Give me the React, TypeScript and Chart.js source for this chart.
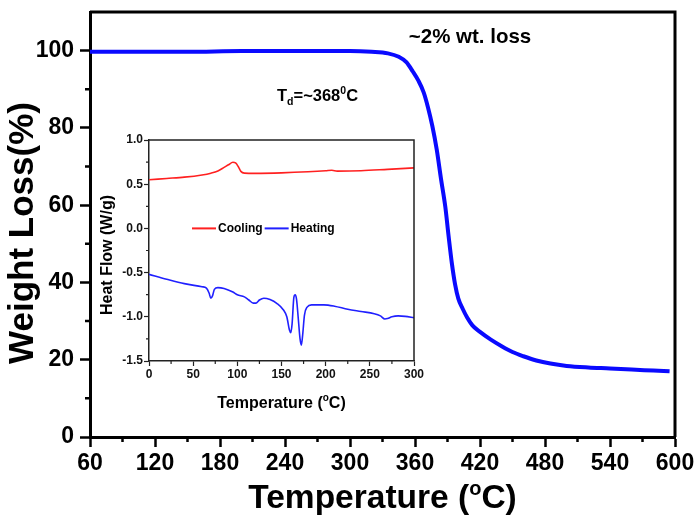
import React, { useEffect, useRef } from "react";
import { Chart, registerables } from "chart.js";

Chart.register(...registerables);

// ---------- Main TGA data ----------
const tgaTemp = [60, 100, 150, 200, 250, 300, 320, 335, 345, 352, 358, 363, 368, 372, 376, 380, 384, 388, 391, 394, 397, 400, 404, 408, 413, 420, 430, 440, 450, 460, 472, 485, 500, 520, 540, 560, 580, 595];
const tgaWeight = [99.7, 99.7, 99.7, 99.9, 99.9, 99.9, 99.7, 99.3, 98.4, 97.0, 94.6, 92.3, 89.2, 85.3, 80.5, 74.5, 66.8, 59.5, 52, 45, 39.5, 35.8, 33.2, 31.0, 28.9, 27.2, 25.2, 23.5, 22.0, 20.9, 19.8, 19.0, 18.4, 18.0, 17.75, 17.45, 17.2, 17.0];
const mainXTicks = [60, 120, 180, 240, 300, 360, 420, 480, 540, 600];
const mainXMinor = [90, 150, 210, 270, 330, 390, 450, 510, 570];
const mainYTicks = [0, 20, 40, 60, 80, 100];
const mainYMinor = [10, 30, 50, 70, 90];

// ---------- Inset DSC data ----------
const coolTemp = [0, 20, 40, 60, 70, 78, 85, 90, 95, 98, 101, 104, 108, 120, 150, 180, 200, 207, 213, 240, 270, 300];
const coolFlow = [0.55, 0.565, 0.58, 0.605, 0.625, 0.65, 0.69, 0.72, 0.748, 0.74, 0.70, 0.645, 0.625, 0.623, 0.628, 0.64, 0.652, 0.658, 0.648, 0.652, 0.668, 0.685];
const heatTemp = [0, 20, 40, 60, 65, 68, 70, 72, 74, 78, 85, 95, 100, 108, 113, 118, 121, 125, 130, 137, 145, 152, 156, 159, 160.5, 162, 164, 165.5, 167, 169, 171, 172.5, 174, 176, 179, 184, 198, 210, 225, 240, 255, 262, 267, 270, 275, 282, 290, 300];
const heatFlow = [-0.52, -0.575, -0.625, -0.66, -0.675, -0.73, -0.79, -0.76, -0.69, -0.67, -0.68, -0.72, -0.75, -0.775, -0.81, -0.845, -0.845, -0.81, -0.79, -0.805, -0.85, -0.92, -1.0, -1.15, -1.18, -1.08, -0.78, -0.75, -0.8, -1.02, -1.25, -1.32, -1.2, -0.98, -0.89, -0.865, -0.865, -0.88, -0.915, -0.94, -0.965, -0.99, -1.025, -1.02, -1.0, -0.99, -0.995, -1.01];
const insetXTicks = [0, 50, 100, 150, 200, 250, 300];
const insetXMinor = [25, 75, 125, 175, 225, 275];
const insetYTicks = [-1.5, -1.0, -0.5, 0.0, 0.5, 1.0];
const insetYMinor = [-1.25, -0.75, -0.25, 0.25, 0.75];
const legendLabels = ["Cooling", "Heating"];
const legendColors = ["#ff2020", "#2020ff"];

const FAM = '"Liberation Sans", Arial, sans-serif';

type Seg = [string, number, number];

function drawRich(ctx: CanvasRenderingContext2D, segs: Seg[], x: number, y: number, align: "left" | "center") {
  const widths = segs.map(([t, s]) => {
    ctx.font = `bold ${s}px ${FAM}`;
    return ctx.measureText(t).width;
  });
  const total = widths.reduce((a, b) => a + b, 0);
  let cx = align === "center" ? x - total / 2 : x;
  ctx.textAlign = "left";
  ctx.textBaseline = "alphabetic";
  segs.forEach(([t, s, dy], i) => {
    ctx.font = `bold ${s}px ${FAM}`;
    ctx.fillText(t, cx, y + dy);
    cx += widths[i];
  });
}

function minorTicks(ctx: CanvasRenderingContext2D, chart: any, xs: number[], ys: number[], len: number) {
  const a = chart.chartArea;
  const sx = chart.scales.x;
  const sy = chart.scales.y;
  ctx.beginPath();
  xs.forEach((v) => {
    const p = sx.getPixelForValue(v);
    ctx.moveTo(p, a.bottom);
    ctx.lineTo(p, a.bottom + len);
  });
  ys.forEach((v) => {
    const p = sy.getPixelForValue(v);
    ctx.moveTo(a.left, p);
    ctx.lineTo(a.left - len, p);
  });
  ctx.stroke();
}

const mainDecor = {
  id: "mainDecor",
  afterDraw(chart: any) {
    const { ctx, chartArea: a } = chart;
    ctx.save();
    ctx.strokeStyle = "#000";
    ctx.lineWidth = 3;
    ctx.beginPath();
    ctx.moveTo(a.left, a.top);
    ctx.lineTo(a.right, a.top);
    ctx.lineTo(a.right, a.bottom);
    ctx.stroke();
    ctx.lineWidth = 2.5;
    minorTicks(ctx, chart, mainXMinor, mainYMinor, 5);
    ctx.fillStyle = "#000";
    // x title
    drawRich(ctx, [["Temperature (", 33.5, 0], ["o", 20, -13], ["C)", 33.5, 0]], (a.left + a.right) / 2, 508, "center");
    // y title
    ctx.save();
    ctx.translate(33, 233);
    ctx.rotate(-Math.PI / 2);
    drawRich(ctx, [["Weight Loss(%)", 35, 0]], 0, 0, "center");
    ctx.restore();
    // annotations
    drawRich(ctx, [["~2% wt. loss", 20.5, 0]], 470, 43, "center");
    drawRich(ctx, [["T", 16.5, 0], ["d", 10.5, 4], ["=~368", 16.5, 0], ["0", 10.5, -7], ["C", 16.5, 0]], 277, 101, "left");
    ctx.restore();
  },
};

const insetDecor = {
  id: "insetDecor",
  afterDraw(chart: any) {
    const { ctx, chartArea: a } = chart;
    ctx.save();
    ctx.strokeStyle = "#222";
    ctx.lineWidth = 1.5;
    ctx.beginPath();
    ctx.moveTo(a.left, a.top);
    ctx.lineTo(a.right, a.top);
    ctx.lineTo(a.right, a.bottom);
    ctx.stroke();
    ctx.lineWidth = 1.2;
    minorTicks(ctx, chart, insetXMinor, insetYMinor, 3);
    ctx.fillStyle = "#000";
    drawRich(ctx, [["Temperature (", 16, 0], ["o", 10, -7], ["C)", 16, 0]], (a.left + a.right) / 2, 278, "center");
    ctx.save();
    ctx.translate(22, 125);
    ctx.rotate(-Math.PI / 2);
    drawRich(ctx, [["Heat Flow (W/g)", 16, 0]], 0, 0, "center");
    ctx.restore();
    // legend
    const ly = chart.scales.y.getPixelForValue(0);
    let lx = a.left + 43;
    ctx.textBaseline = "middle";
    ctx.textAlign = "left";
    legendLabels.forEach((lab, i) => {
      ctx.strokeStyle = legendColors[i];
      ctx.lineWidth = 2;
      ctx.beginPath();
      ctx.moveTo(lx, ly);
      ctx.lineTo(lx + 24, ly);
      ctx.stroke();
      ctx.fillStyle = "#000";
      ctx.font = `bold 12px ${FAM}`;
      ctx.fillText(lab, lx + 26, ly);
      lx += 26 + ctx.measureText(lab).width + 2;
    });
    ctx.restore();
  },
};

function zeroPad(s: any) {
  s.paddingTop = 0;
  s.paddingBottom = 0;
  s.paddingLeft = 0;
  s.paddingRight = 0;
}

export default function App() {
  const mainRef = useRef<HTMLCanvasElement>(null);
  const insetRef = useRef<HTMLCanvasElement>(null);

  useEffect(() => {
    const main = new Chart(mainRef.current!, {
      type: "line",
      data: {
        datasets: [
          {
            data: tgaTemp.map((t, i) => ({ x: t, y: tgaWeight[i] })),
            borderColor: "#0a0aff",
            borderWidth: 4,
            pointRadius: 0,
            cubicInterpolationMode: "monotone",
            fill: false,
          },
        ],
      },
      options: {
        animation: false,
        responsive: false,
        devicePixelRatio: 1,
        layout: { padding: { left: 0, right: 25, top: 12, bottom: 0 } },
        plugins: { legend: { display: false }, tooltip: { enabled: false } },
        scales: {
          x: {
            type: "linear",
            min: 60,
            max: 600,
            afterBuildTicks: (s: any) => {
              s.ticks = mainXTicks.map((v) => ({ value: v }));
            },
            afterFit: (s: any) => {
              s.height = 87;
              zeroPad(s);
            },
            grid: { display: true, drawOnChartArea: false, drawTicks: true, tickLength: 10, tickWidth: 2.5, tickColor: "#000" },
            border: { display: true, width: 3, color: "#000" },
            ticks: { color: "#000", font: { family: FAM, size: 23, weight: "bold" }, padding: 3, maxRotation: 0, autoSkip: false },
          },
          y: {
            type: "linear",
            min: 0,
            max: 110,
            afterBuildTicks: (s: any) => {
              s.ticks = mainYTicks.map((v) => ({ value: v }));
            },
            afterFit: (s: any) => {
              s.width = 90;
              zeroPad(s);
            },
            grid: { display: true, drawOnChartArea: false, drawTicks: true, tickLength: 10, tickWidth: 2.5, tickColor: "#000" },
            border: { display: true, width: 3, color: "#000" },
            ticks: { color: "#000", font: { family: FAM, size: 23, weight: "bold" }, padding: 6, autoSkip: false },
          },
        },
      } as any,
      plugins: [mainDecor],
    });

    const inset = new Chart(insetRef.current!, {
      type: "line",
      data: {
        datasets: [
          {
            data: coolTemp.map((t, i) => ({ x: t, y: coolFlow[i] })),
            borderColor: legendColors[0],
            borderWidth: 1.6,
            pointRadius: 0,
            cubicInterpolationMode: "monotone",
            fill: false,
          },
          {
            data: heatTemp.map((t, i) => ({ x: t, y: heatFlow[i] })),
            borderColor: legendColors[1],
            borderWidth: 1.6,
            pointRadius: 0,
            cubicInterpolationMode: "monotone",
            fill: false,
          },
        ],
      },
      options: {
        animation: false,
        responsive: false,
        devicePixelRatio: 1,
        layout: { padding: { left: 0, right: 16, top: 10, bottom: 0 } },
        plugins: { legend: { display: false }, tooltip: { enabled: false } },
        scales: {
          x: {
            type: "linear",
            min: 0,
            max: 300,
            afterBuildTicks: (s: any) => {
              s.ticks = insetXTicks.map((v) => ({ value: v }));
            },
            afterFit: (s: any) => {
              s.height = 59;
              zeroPad(s);
            },
            grid: { display: true, drawOnChartArea: false, drawTicks: true, tickLength: 5, tickWidth: 1.2, tickColor: "#222" },
            border: { display: true, width: 1.5, color: "#222" },
            ticks: { color: "#111", font: { family: FAM, size: 12, weight: "bold" }, padding: 1, maxRotation: 0, autoSkip: false },
          },
          y: {
            type: "linear",
            min: -1.5,
            max: 1.0,
            afterBuildTicks: (s: any) => {
              s.ticks = insetYTicks.map((v) => ({ value: v }));
            },
            afterFit: (s: any) => {
              s.width = 59;
              zeroPad(s);
            },
            grid: { display: true, drawOnChartArea: false, drawTicks: true, tickLength: 5, tickWidth: 1.2, tickColor: "#222" },
            border: { display: true, width: 1.5, color: "#222" },
            ticks: {
              color: "#111",
              font: { family: FAM, size: 12, weight: "bold" },
              padding: 1,
              autoSkip: false,
              callback: (v: any) => Number(v).toFixed(1),
            },
          },
        },
      } as any,
      plugins: [insetDecor],
    });

    return () => {
      main.destroy();
      inset.destroy();
    };
  }, []);

  return (
    <div style={{ position: "absolute", left: 0, top: 0, width: 700, height: 524, background: "#fff" }}>
      <canvas ref={mainRef} width={700} height={524} style={{ position: "absolute", left: 0, top: 0, width: 700, height: 524 }} />
      <canvas ref={insetRef} width={340} height={290} style={{ position: "absolute", left: 90, top: 130, width: 340, height: 290 }} />
    </div>
  );
}
